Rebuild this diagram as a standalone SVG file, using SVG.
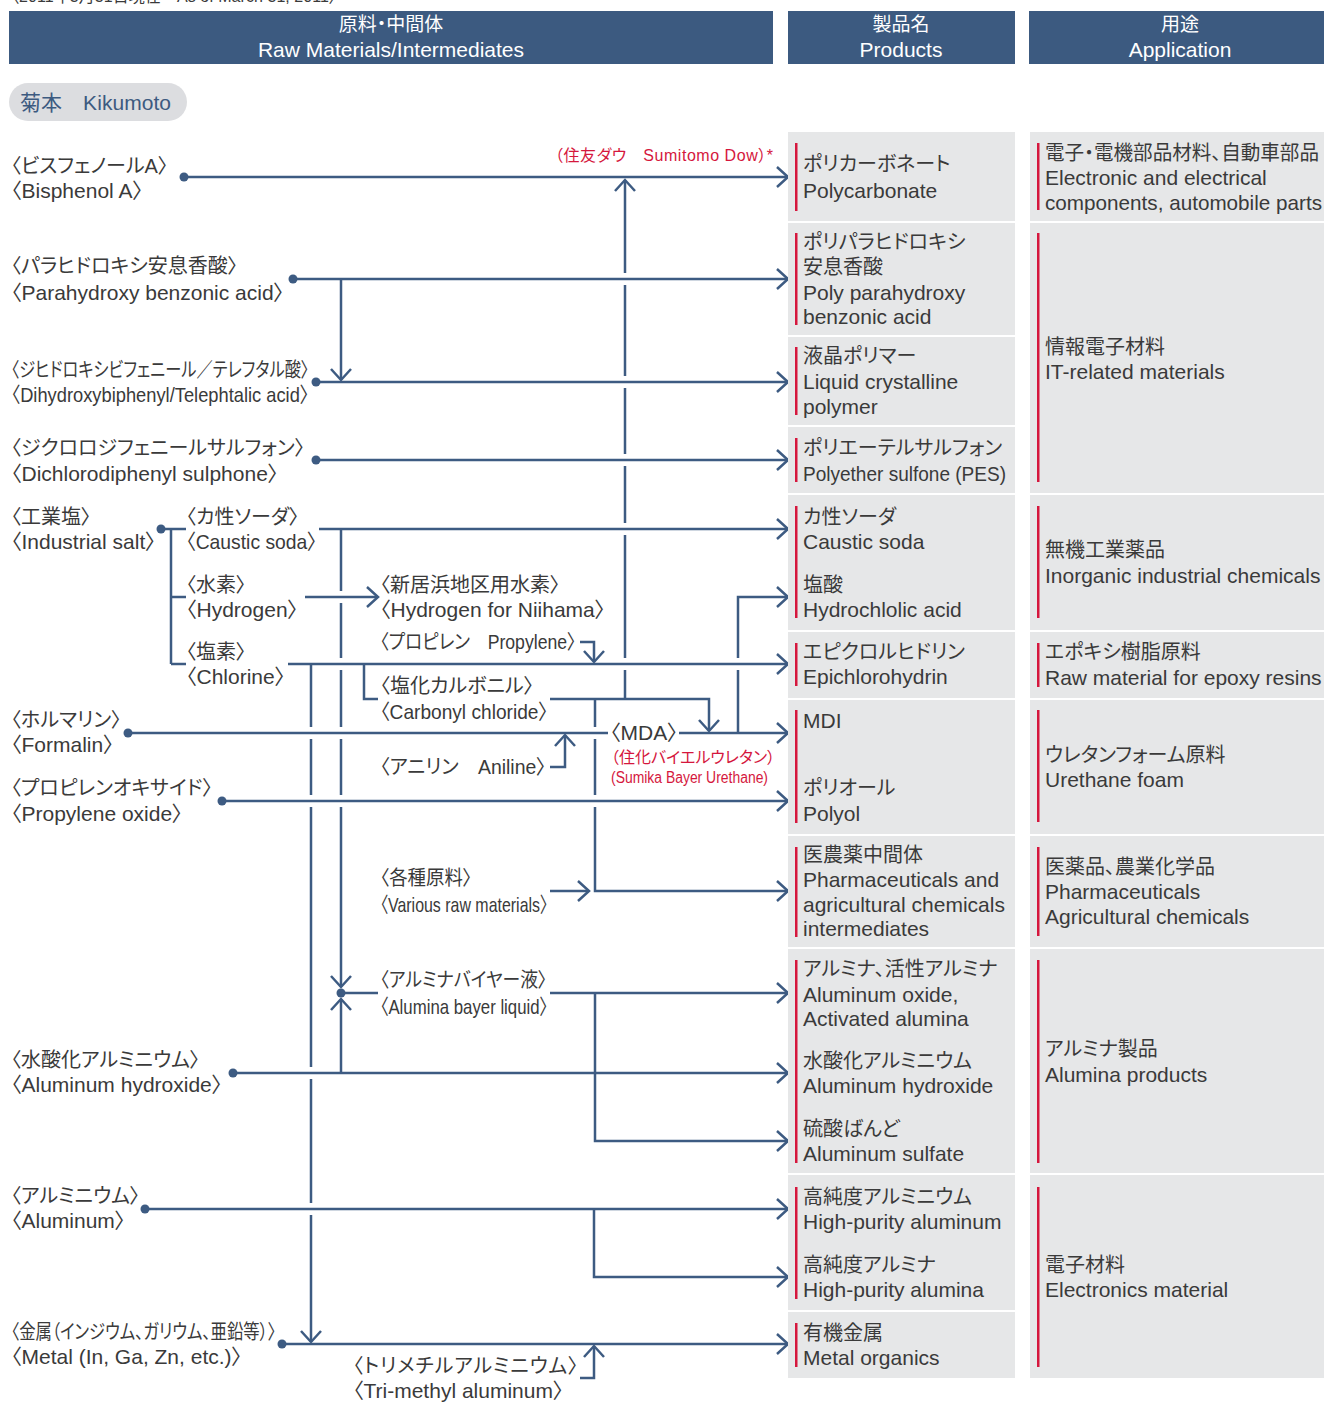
<svg xmlns="http://www.w3.org/2000/svg" width="1324" height="1403" viewBox="0 0 1324 1403">
<defs>
<style>
.t{font-family:"Liberation Sans","Noto Sans CJK JP",sans-serif;font-feature-settings:"palt";fill:#3a3a3a}
.e{font-size:21px}
.j{font-size:20px}
.w{fill:#ffffff}
.mid{text-anchor:middle}
.r{fill:#d5173d;font-size:16px}
.box{fill:#e6e7e8}
.bar{fill:#d5173d}
.hdr{fill:#3c5a80}
.ln{fill:none;stroke:#3d5b82;stroke-width:2.5}
.ar{marker-end:url(#ah)}
.dot{fill:#3d5b82}
</style>
<marker id="ah" markerUnits="userSpaceOnUse" orient="auto" overflow="visible" markerWidth="1" markerHeight="1" refX="0" refY="0">
<path d="M-11,-10 L0,0 L-11,10" fill="none" stroke="#3d5b82" stroke-width="2.5"/>
</marker>
</defs>
<rect width="1324" height="1403" fill="#ffffff"/>

<text class="t" x="11" y="2" style="font-size:16px" textLength="326">〈2011年3月31日現在　As of March 31, 2011〉</text>

<g id="header-raw">
<rect class="hdr" x="9" y="11" width="764" height="53"/>
<text class="t w j mid" x="391" y="31" style="font-size:19px">原料・中間体</text>
<text class="t w e mid" x="391" y="57">Raw Materials/Intermediates</text>
</g>
<g id="header-products">
<rect class="hdr" x="788" y="11" width="227" height="53"/>
<text class="t w j mid" x="901" y="31" style="font-size:19px">製品名</text>
<text class="t w e mid" x="901" y="57">Products</text>
</g>
<g id="header-application">
<rect class="hdr" x="1029" y="11" width="295" height="53"/>
<text class="t w j mid" x="1180" y="31" style="font-size:19px">用途</text>
<text class="t w e mid" x="1180" y="57">Application</text>
</g>

<g id="kikumoto">
<rect x="9" y="83" width="178" height="38" rx="19" fill="#dcdde0"/>
<text class="t" x="20" y="110" style="fill:#3c5a80;font-size:21px" textLength="151">菊本　Kikumoto</text>
</g>

<g id="connectors">
<path class="ln ar" d="M184,177 H788"/>
<path class="ln ar" d="M293,279 H788"/>
<path class="ln ar" d="M341,279 V380"/>
<path class="ln ar" d="M316,382 H788"/>
<path class="ln ar" d="M316,460 H788"/>
<path class="ln" d="M161,529 H186 M171,529 V664 M171,597 H186 M171,664 H186"/>
<path class="ln ar" d="M319,529 H788"/>
<path class="ln ar" d="M305,597 H378"/>
<path class="ln ar" d="M288,664 H788"/>
<path class="ln ar" d="M580,642 H594 V662"/>
<path class="ln ar" d="M341,529 V591 M341,603 V658 M341,670 V727 M341,739 V795 M341,807 V987"/>
<path class="ln ar" d="M311,664 V727 M311,739 V795 M311,807 V1067 M311,1079 V1203 M311,1215 V1342"/>
<path class="ln" d="M364,664 V699 H378"/>
<path class="ln ar" d="M550,699 H709 V731"/>
<path class="ln ar" d="M625,699 V670 M625,658 V535 M625,523 V466 M625,454 V388 M625,376 V285 M625,273 V180"/>
<path class="ln ar" d="M595,699 V727 M595,739 V795 M595,807 V891 H788"/>
<path class="ln ar" d="M128,733 H608 M679,733 H788"/>
<path class="ln ar" d="M550,767 H565 V735"/>
<path class="ln ar" d="M738,733 V670 M738,658 V597 H788"/>
<path class="ln ar" d="M222,801 H788"/>
<path class="ln ar" d="M550,891 H589"/>
<path class="ln ar" d="M341,993 H378 M550,993 H788"/>
<path class="ln ar" d="M341,1073 V999"/>
<path class="ln ar" d="M595,993 V1141 H788"/>
<path class="ln ar" d="M233,1073 H788"/>
<path class="ln ar" d="M145,1209 H788"/>
<path class="ln ar" d="M594,1209 V1277 H788"/>
<path class="ln ar" d="M282,1344 H788"/>
<path class="ln ar" d="M580,1378 H594 V1346"/>
<circle class="dot" cx="184" cy="177" r="4.5"/>
<circle class="dot" cx="293" cy="279" r="4.5"/>
<circle class="dot" cx="316" cy="382" r="4.5"/>
<circle class="dot" cx="316" cy="460" r="4.5"/>
<circle class="dot" cx="161" cy="529" r="4.5"/>
<circle class="dot" cx="128" cy="733" r="4.5"/>
<circle class="dot" cx="222" cy="801" r="4.5"/>
<circle class="dot" cx="341" cy="993" r="4.5"/>
<circle class="dot" cx="233" cy="1073" r="4.5"/>
<circle class="dot" cx="145" cy="1209" r="4.5"/>
<circle class="dot" cx="282" cy="1344" r="4.5"/>
</g>

<g id="m-bisphenol">
<text class="t j" x="11" y="173">〈ビスフェノールA〉</text>
<text class="t e" x="11" y="198">〈Bisphenol A〉</text>
</g>
<g id="m-sumitomo-dow">
<text class="t r" x="555" y="161" textLength="218">（住友ダウ　Sumitomo Dow）*</text>
</g>
<g id="m-parahydroxy">
<text class="t j" x="11" y="273">〈パラヒドロキシ安息香酸〉</text>
<text class="t e" x="11" y="300">〈Parahydroxy benzonic acid〉</text>
</g>
<g id="m-dihydroxy">
<text class="t j" x="11" y="377" textLength="298" lengthAdjust="spacingAndGlyphs">〈ジヒドロキシビフェニール／テレフタル酸〉</text>
<text class="t e" x="11" y="402" textLength="298" lengthAdjust="spacingAndGlyphs">〈Dihydroxybiphenyl/Telephtalic acid〉</text>
</g>
<g id="m-dichloro">
<text class="t j" x="11" y="455">〈ジクロロジフェニールサルフォン〉</text>
<text class="t e" x="11" y="481">〈Dichlorodiphenyl sulphone〉</text>
</g>
<g id="m-industrial-salt">
<text class="t j" x="11" y="524">〈工業塩〉</text>
<text class="t e" x="11" y="549">〈Industrial salt〉</text>
</g>
<g id="m-caustic-soda">
<text class="t j" x="186" y="524">〈カ性ソーダ〉</text>
<text class="t e" x="186" y="549" textLength="131" lengthAdjust="spacingAndGlyphs">〈Caustic soda〉</text>
</g>
<g id="m-hydrogen">
<text class="t j" x="186" y="592">〈水素〉</text>
<text class="t e" x="186" y="617">〈Hydrogen〉</text>
</g>
<g id="m-chlorine">
<text class="t j" x="186" y="659">〈塩素〉</text>
<text class="t e" x="186" y="684">〈Chlorine〉</text>
</g>
<g id="m-hydrogen-niihama">
<text class="t j" x="380" y="592">〈新居浜地区用水素〉</text>
<text class="t e" x="380" y="617">〈Hydrogen for Niihama〉</text>
</g>
<g id="m-propylene">
<text class="t j" x="380" y="649" textLength="196" lengthAdjust="spacingAndGlyphs">〈プロピレン　Propylene〉</text>
</g>
<g id="m-carbonyl">
<text class="t j" x="380" y="693">〈塩化カルボニル〉</text>
<text class="t e" x="380" y="719" textLength="168" lengthAdjust="spacingAndGlyphs">〈Carbonyl chloride〉</text>
</g>
<g id="m-formalin">
<text class="t j" x="11" y="727">〈ホルマリン〉</text>
<text class="t e" x="11" y="752">〈Formalin〉</text>
</g>
<g id="m-mda">
<text class="t e" x="610" y="740">〈MDA〉</text>
<text class="t r" x="611" y="763">（住化バイエルウレタン）</text>
<text class="t r" x="611" y="783" textLength="157" lengthAdjust="spacingAndGlyphs">(Sumika Bayer Urethane)</text>
</g>
<g id="m-aniline">
<text class="t j" x="380" y="774" textLength="166" lengthAdjust="spacingAndGlyphs">〈アニリン　Aniline〉</text>
</g>
<g id="m-propylene-oxide">
<text class="t j" x="11" y="795">〈プロピレンオキサイド〉</text>
<text class="t e" x="11" y="821">〈Propylene oxide〉</text>
</g>
<g id="m-various">
<text class="t j" x="380" y="885" textLength="92" lengthAdjust="spacingAndGlyphs">〈各種原料〉</text>
<text class="t e" x="380" y="912" textLength="168" lengthAdjust="spacingAndGlyphs">〈Various raw materials〉</text>
</g>
<g id="m-bayer">
<text class="t j" x="380" y="987" textLength="167" lengthAdjust="spacingAndGlyphs">〈アルミナバイヤー液〉</text>
<text class="t e" x="380" y="1014" textLength="168" lengthAdjust="spacingAndGlyphs">〈Alumina bayer liquid〉</text>
</g>
<g id="m-al-hydroxide">
<text class="t j" x="11" y="1067">〈水酸化アルミニウム〉</text>
<text class="t e" x="11" y="1092">〈Aluminum hydroxide〉</text>
</g>
<g id="m-aluminum">
<text class="t j" x="11" y="1203">〈アルミニウム〉</text>
<text class="t e" x="11" y="1228">〈Aluminum〉</text>
</g>
<g id="m-metal">
<text class="t j" x="11" y="1339" textLength="265" lengthAdjust="spacingAndGlyphs">〈金属（インジウム、ガリウム、亜鉛等）〉</text>
<text class="t e" x="11" y="1364">〈Metal (In, Ga, Zn, etc.)〉</text>
</g>
<g id="m-trimethyl">
<text class="t j" x="353" y="1373" textLength="225">〈トリメチルアルミニウム〉</text>
<text class="t e" x="353" y="1398">〈Tri-methyl aluminum〉</text>
</g>

<g id="p-polycarbonate">
<rect class="box" x="788" y="132" width="227" height="89"/>
<rect class="bar" x="795" y="143" width="2.5" height="68"/>
<text class="t j" x="803" y="171">ポリカーボネート</text>
<text class="t e" x="803" y="198">Polycarbonate</text>
</g>
<g id="p-poly-parahydroxy">
<rect class="box" x="788" y="223" width="227" height="112"/>
<rect class="bar" x="795" y="233" width="2.5" height="92"/>
<text class="t j" x="803" y="249">ポリパラヒドロキシ</text>
<text class="t j" x="803" y="274">安息香酸</text>
<text class="t e" x="803" y="300">Poly parahydroxy</text>
<text class="t e" x="803" y="324">benzonic acid</text>
</g>
<g id="p-lcp">
<rect class="box" x="788" y="337" width="227" height="88"/>
<rect class="bar" x="795" y="347" width="2.5" height="68"/>
<text class="t j" x="803" y="363">液晶ポリマー</text>
<text class="t e" x="803" y="389">Liquid crystalline</text>
<text class="t e" x="803" y="414">polymer</text>
</g>
<g id="p-pes">
<rect class="box" x="788" y="427" width="227" height="66"/>
<rect class="bar" x="795" y="438" width="2.5" height="44"/>
<text class="t j" x="803" y="455">ポリエーテルサルフォン</text>
<text class="t e" x="803" y="481" textLength="203" lengthAdjust="spacingAndGlyphs">Polyether sulfone (PES)</text>
</g>
<g id="p-caustic-hcl">
<rect class="box" x="788" y="495" width="227" height="135"/>
<rect class="bar" x="795" y="506" width="2.5" height="112"/>
<text class="t j" x="803" y="524">カ性ソーダ</text>
<text class="t e" x="803" y="549">Caustic soda</text>
<text class="t j" x="803" y="592">塩酸</text>
<text class="t e" x="803" y="617">Hydrochlolic acid</text>
</g>
<g id="p-epichlorohydrin">
<rect class="box" x="788" y="632" width="227" height="66"/>
<rect class="bar" x="795" y="643" width="2.5" height="43"/>
<text class="t j" x="803" y="659">エピクロルヒドリン</text>
<text class="t e" x="803" y="684">Epichlorohydrin</text>
</g>
<g id="p-mdi-polyol">
<rect class="box" x="788" y="700" width="227" height="134"/>
<rect class="bar" x="795" y="710" width="2.5" height="113"/>
<text class="t e" x="803" y="728">MDI</text>
<text class="t j" x="803" y="795">ポリオール</text>
<text class="t e" x="803" y="821">Polyol</text>
</g>
<g id="p-pharma">
<rect class="box" x="788" y="836" width="227" height="111"/>
<rect class="bar" x="795" y="847" width="2.5" height="90"/>
<text class="t j" x="803" y="862">医農薬中間体</text>
<text class="t e" x="803" y="887">Pharmaceuticals and</text>
<text class="t e" x="803" y="912">agricultural chemicals</text>
<text class="t e" x="803" y="936">intermediates</text>
</g>
<g id="p-alumina">
<rect class="box" x="788" y="949" width="227" height="224"/>
<rect class="bar" x="795" y="960" width="2.5" height="203"/>
<text class="t j" x="803" y="976">アルミナ、活性アルミナ</text>
<text class="t e" x="803" y="1002">Aluminum oxide,</text>
<text class="t e" x="803" y="1026">Activated alumina</text>
<text class="t j" x="803" y="1068">水酸化アルミニウム</text>
<text class="t e" x="803" y="1093">Aluminum hydroxide</text>
<text class="t j" x="803" y="1136">硫酸ばんど</text>
<text class="t e" x="803" y="1161">Aluminum sulfate</text>
</g>
<g id="p-high-purity">
<rect class="box" x="788" y="1175" width="227" height="135"/>
<rect class="bar" x="795" y="1187" width="2.5" height="112"/>
<text class="t j" x="803" y="1204">高純度アルミニウム</text>
<text class="t e" x="803" y="1229">High-purity aluminum</text>
<text class="t j" x="803" y="1272">高純度アルミナ</text>
<text class="t e" x="803" y="1297">High-purity alumina</text>
</g>
<g id="p-metal-organics">
<rect class="box" x="788" y="1312" width="227" height="66"/>
<rect class="bar" x="795" y="1323" width="2.5" height="44"/>
<text class="t j" x="803" y="1340">有機金属</text>
<text class="t e" x="803" y="1365">Metal organics</text>
</g>

<g id="a-electronic">
<rect class="box" x="1030" y="132" width="294" height="89"/>
<rect class="bar" x="1037" y="143" width="2.5" height="67"/>
<text class="t j" x="1045" y="160" textLength="274" lengthAdjust="spacingAndGlyphs">電子・電機部品材料、自動車部品</text>
<text class="t e" x="1045" y="185">Electronic and electrical</text>
<text class="t e" x="1045" y="210" textLength="277" lengthAdjust="spacingAndGlyphs">components, automobile parts</text>
</g>
<g id="a-it">
<rect class="box" x="1030" y="223" width="294" height="270"/>
<rect class="bar" x="1037" y="233" width="2.5" height="249"/>
<text class="t j" x="1045" y="354">情報電子材料</text>
<text class="t e" x="1045" y="379">IT-related materials</text>
</g>
<g id="a-inorganic">
<rect class="box" x="1030" y="495" width="294" height="135"/>
<rect class="bar" x="1037" y="506" width="2.5" height="112"/>
<text class="t j" x="1045" y="557">無機工業薬品</text>
<text class="t e" x="1045" y="583">Inorganic industrial chemicals</text>
</g>
<g id="a-epoxy">
<rect class="box" x="1030" y="632" width="294" height="66"/>
<rect class="bar" x="1037" y="643" width="2.5" height="44"/>
<text class="t j" x="1045" y="659">エポキシ樹脂原料</text>
<text class="t e" x="1045" y="685">Raw material for epoxy resins</text>
</g>
<g id="a-urethane">
<rect class="box" x="1030" y="700" width="294" height="134"/>
<rect class="bar" x="1037" y="710" width="2.5" height="112"/>
<text class="t j" x="1045" y="762">ウレタンフォーム原料</text>
<text class="t e" x="1045" y="787">Urethane foam</text>
</g>
<g id="a-pharma">
<rect class="box" x="1030" y="836" width="294" height="111"/>
<rect class="bar" x="1037" y="847" width="2.5" height="89"/>
<text class="t j" x="1045" y="874">医薬品、農業化学品</text>
<text class="t e" x="1045" y="899">Pharmaceuticals</text>
<text class="t e" x="1045" y="924">Agricultural chemicals</text>
</g>
<g id="a-alumina">
<rect class="box" x="1030" y="949" width="294" height="224"/>
<rect class="bar" x="1037" y="960" width="2.5" height="203"/>
<text class="t j" x="1045" y="1056">アルミナ製品</text>
<text class="t e" x="1045" y="1082">Alumina products</text>
</g>
<g id="a-electronics">
<rect class="box" x="1030" y="1175" width="294" height="203"/>
<rect class="bar" x="1037" y="1187" width="2.5" height="180"/>
<text class="t j" x="1045" y="1272">電子材料</text>
<text class="t e" x="1045" y="1297">Electronics material</text>
</g>
</svg>
